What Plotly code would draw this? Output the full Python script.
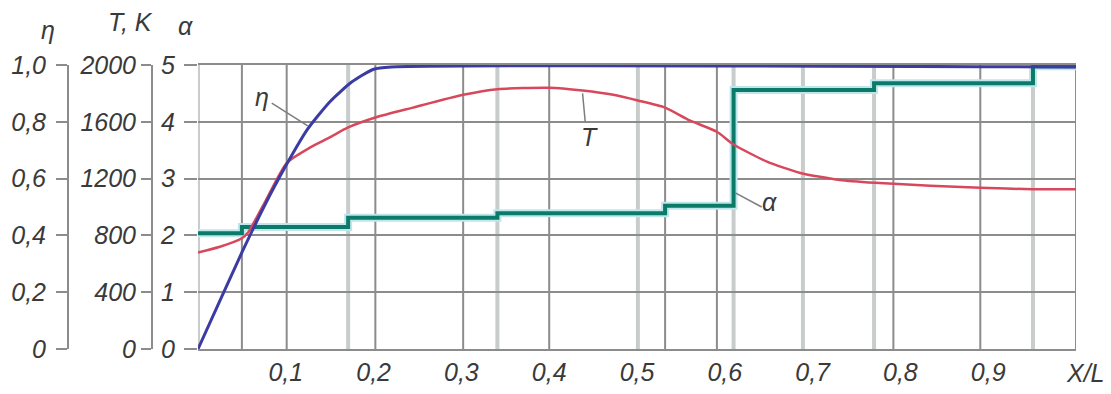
import plotly.graph_objects as go

# ---------------- data ----------------
x_eta = [0.0, 0.025, 0.05, 0.075, 0.10, 0.125, 0.15, 0.175, 0.20, 0.22, 1.0]
eta = [0.0, 0.17, 0.34, 0.50, 0.645, 0.775, 0.87, 0.94, 0.985, 0.993, 0.993]

x_T = [0.0, 0.025, 0.05, 0.057, 0.075, 0.101, 0.128, 0.150, 0.171, 0.202, 0.245,
       0.302, 0.341, 0.400, 0.438, 0.473, 0.501, 0.532, 0.560, 0.591, 0.610,
       0.648, 0.686, 0.731, 0.771, 0.834, 0.891, 0.951, 1.0]
T_K = [680, 720, 780, 820, 1020, 1310, 1420, 1490, 1560, 1630, 1700,
       1790, 1830, 1840, 1820, 1790, 1750, 1700, 1610, 1530, 1440,
       1320, 1240, 1190, 1170, 1150, 1135, 1125, 1125]

x_alpha = [0.0, 0.050, 0.171, 0.341, 0.532, 0.610, 0.770, 0.951, 1.0]
alpha = [2.04, 2.15, 2.31, 2.39, 2.52, 4.56, 4.68, 4.98, 4.98]

x_ticks = [0.1, 0.2, 0.3, 0.4, 0.5, 0.6, 0.7, 0.8, 0.9]
x_ticklabels = ["0,1", "0,2", "0,3", "0,4", "0,5", "0,6", "0,7", "0,8", "0,9"]
eta_ticks = [0, 0.2, 0.4, 0.6, 0.8, 1.0]
eta_ticklabels = ["0", "0,2", "0,4", "0,6", "0,8", "1,0"]
T_ticks = [0, 400, 800, 1200, 1600, 2000]
T_ticklabels = ["0", "400", "800", "1200", "1600", "2000"]
alpha_ticks = [0, 1, 2, 3, 4, 5]
alpha_ticklabels = ["0", "1", "2", "3", "4", "5"]

grid_dark_x = [0.050, 0.101, 0.202, 0.302, 0.400, 0.532, 0.591, 0.792, 0.891, 1.0]
grid_light_x = [0.0, 0.171, 0.341, 0.501, 0.610, 0.689, 0.770, 0.951]

# ---------------- layout geometry ----------------
OFF = 8                      # page body margin of the browser
W, H = 1111 - OFF, 394 - OFF
X0, X1 = 198 - OFF, 1076 - OFF   # plot area left/right (figure px)
Y0, Y1 = 65 - OFF, 349 - OFF     # plot area top/bottom (figure px)
M_L, M_R, M_T, M_B = 0, W - X1, Y0, H - Y1
PW = W - M_L - M_R
PH = H - M_T - M_B

FONT = "Liberation Sans, Arial, sans-serif"
TXT = "#3a3a3a"
DARK = "#8c8c8c"
LIGHT = "#c9cccc"
FS = 25


def px(page_x):
    return (page_x - OFF) / PW


def py(page_y):
    return (Y1 - (page_y - OFF)) / PH


fig = go.Figure()

# alpha steps (halo + main line)
fig.add_trace(go.Scatter(x=x_alpha, y=alpha, mode="lines", yaxis="y",
                         line=dict(shape="hv", color="#bfe6ee", width=8),
                         hoverinfo="skip", showlegend=False))
fig.add_trace(go.Scatter(x=x_alpha, y=alpha, mode="lines", yaxis="y",
                         line=dict(shape="hv", color="#0b7a66", width=4),
                         showlegend=False, name="α"))
# temperature
fig.add_trace(go.Scatter(x=x_T, y=T_K, mode="lines", yaxis="y2",
                         line=dict(shape="spline", smoothing=0.6, color="#d8485c", width=2.5),
                         showlegend=False, name="T"))
# efficiency
fig.add_trace(go.Scatter(x=x_eta, y=eta, mode="lines", yaxis="y3",
                         line=dict(shape="spline", smoothing=0.6, color="#3b3ba3", width=3),
                         showlegend=False, name="η"))

shapes = []
for xv in grid_light_x:
    shapes.append(dict(type="line", xref="x", yref="y", x0=xv, x1=xv, y0=0, y1=5,
                       line=dict(color=LIGHT, width=4), layer="below"))
for xv in grid_dark_x:
    shapes.append(dict(type="line", xref="x", yref="y", x0=xv, x1=xv, y0=0, y1=5,
                       line=dict(color=DARK, width=2), layer="below"))
# leader lines of the curve labels
lead = dict(color="#7d7d7d", width=1.5)
shapes.append(dict(type="line", xref="x", yref="y", x0=0.084, y0=4.33, x1=0.125, y1=3.93, line=lead))
shapes.append(dict(type="line", xref="x", yref="y", x0=0.438, y0=4.50, x1=0.441, y1=4.0, line=lead))
shapes.append(dict(type="line", xref="x", yref="y", x0=0.612, y0=2.75, x1=0.642, y1=2.50, line=lead))

italic = dict(family=FONT, size=FS, color=TXT, style="italic")


def label(text, x, y, ref):
    return dict(text=text, x=x, y=y, xref=ref[0], yref=ref[1], showarrow=False,
                xanchor="center", yanchor="middle", font=italic)


annotations = [
    label("η", 0.073, 4.44, ("x", "y")),
    label("T", 0.446, 3.73, ("x", "y")),
    label("α", 0.651, 2.58, ("x", "y")),
    label("η", px(48), py(30), ("paper", "paper")),
    label("T, K", px(130), py(22), ("paper", "paper")),
    label("α", px(185), py(26), ("paper", "paper")),
    label("X/L", px(1085), py(373), ("paper", "paper")),
]

fig.update_layout(
    width=W, height=H,
    margin=dict(l=M_L, r=M_R, t=M_T, b=M_B, pad=0, autoexpand=False),
    paper_bgcolor="white", plot_bgcolor="white",
    font=italic,
    shapes=shapes, annotations=annotations,
    xaxis=dict(domain=[X0 / PW, 1], range=[0, 1], showgrid=False, zeroline=False,
               showline=True, mirror=True, linecolor=DARK, linewidth=2,
               ticks="", tickvals=x_ticks, ticktext=x_ticklabels,
               ticklabelstandoff=0, tickfont=italic, automargin=False),
    yaxis=dict(range=[0, 5], showgrid=True, gridcolor=DARK, gridwidth=2, zeroline=False,
               showline=False, ticks="outside", ticklen=13, tickwidth=2, tickcolor=DARK,
               tickvals=alpha_ticks, ticktext=alpha_ticklabels, tickfont=italic,
               ticklabelstandoff=4, automargin=False),
    yaxis2=dict(range=[0, 2000], overlaying="y", anchor="free", position=px(152), side="left",
                showgrid=False, zeroline=False, showline=True, linecolor=DARK, linewidth=2,
                ticks="outside", ticklen=10, tickwidth=2, tickcolor=DARK,
                tickvals=T_ticks, ticktext=T_ticklabels, tickfont=italic,
                ticklabelstandoff=0, automargin=False),
    yaxis3=dict(range=[0, 1], overlaying="y", anchor="free", position=px(68), side="left",
                showgrid=False, zeroline=False, showline=True, linecolor=DARK, linewidth=2,
                ticks="outside", ticklen=11, tickwidth=2, tickcolor=DARK,
                tickvals=eta_ticks, ticktext=eta_ticklabels, tickfont=italic,
                ticklabelstandoff=5, automargin=False),
)

fig.write_html("out.html")
